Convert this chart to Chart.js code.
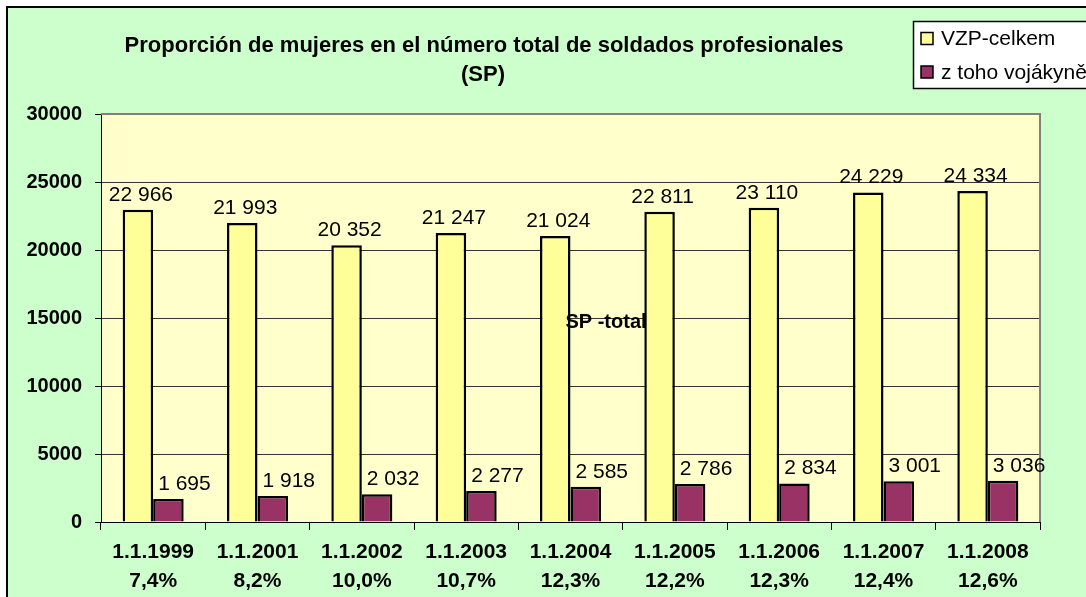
<!DOCTYPE html>
<html>
<head>
<meta charset="utf-8">
<script src="https://cdn.jsdelivr.net/npm/chart.js@4/dist/chart.umd.min.js"></script>
<style>
  html, body { margin: 0; padding: 0; background: #fff; }
  #wrap { width: 1086px; height: 597px; }
</style>
</head>
<body>
<div id="wrap"><canvas id="soldiers" width="1086" height="597"></canvas></div>
<script>
// data
const dates = ["1.1.1999", "1.1.2001", "1.1.2002", "1.1.2003", "1.1.2004", "1.1.2005", "1.1.2006", "1.1.2007", "1.1.2008"];
const shares = ["7,4%", "8,2%", "10,0%", "10,7%", "12,3%", "12,2%", "12,3%", "12,4%", "12,6%"];
const totalSP = [22966, 21993, 20352, 21247, 21024, 22811, 23110, 24229, 24334];
const womenSP = [1695, 1918, 2032, 2277, 2585, 2786, 2834, 3001, 3036];
const seriesNames = ["VZP-celkem", "z toho vojákyně"];
const yTicks = [0, 5000, 10000, 15000, 20000, 25000, 30000];

const FONT = "'Liberation Sans', Arial, sans-serif";

function fmt(v) {
  return String(v).replace(/\B(?=(\d{3})+(?!\d))/g, " ");
}

// backgrounds, frame, title, legend, labels
const decor = {
  id: "decor",
  beforeDraw(chart) {
    const c = chart.ctx, a = chart.chartArea;
    c.save();
    c.fillStyle = "#fff";
    c.fillRect(0, 0, chart.width, chart.height);
    c.fillStyle = "#CCFFCC";
    c.fillRect(7, 7, chart.width, chart.height);
    c.strokeStyle = "#000";
    c.lineWidth = 2;
    c.beginPath();
    c.moveTo(7, chart.height);
    c.lineTo(7, 7);
    c.lineTo(chart.width, 7);
    c.stroke();
    c.fillStyle = "#FFFFCC";
    c.fillRect(a.left, a.top, a.right - a.left, a.bottom - a.top);
    c.restore();
  },
  afterDraw(chart) {
    const c = chart.ctx, a = chart.chartArea;
    c.save();
    // plot border top / right
    c.strokeStyle = "#808080";
    c.lineWidth = 2;
    c.beginPath();
    c.moveTo(a.left, a.top);
    c.lineTo(a.right, a.top);
    c.lineTo(a.right, a.bottom);
    c.stroke();

    // title
    c.fillStyle = "#000";
    c.textAlign = "center";
    c.textBaseline = "middle";
    c.font = "bold 22px " + FONT;
    c.fillText("Proporción de mujeres en el número total de soldados profesionales", 484, 46);
    c.fillText("(SP)", 483, 75);

    // value labels
    c.font = "21px " + FONT;
    c.textBaseline = "alphabetic";
    const shift = [3, 16];
    chart.data.datasets.forEach((ds, di) => {
      chart.getDatasetMeta(di).data.forEach((bar, i) => {
        c.fillText(fmt(ds.data[i]), bar.x + shift[di], bar.y - 9);
      });
    });

    // text in plot
    c.font = "bold 20px " + FONT;
    c.textBaseline = "middle";
    c.fillText("SP -total", 606, 322);

    // legend
    c.fillStyle = "#fff";
    c.fillRect(913, 21, 200, 67);
    c.strokeStyle = "#000";
    c.lineWidth = 1.5;
    c.strokeRect(913.5, 21.5, 200, 67);
    c.textAlign = "left";
    c.font = "21px " + FONT;
    chart.data.datasets.forEach((ds, di) => {
      const y = 38.5 + di * 33.5;
      c.fillStyle = ds.backgroundColor;
      c.fillRect(921, y - 6, 12, 12);
      c.strokeStyle = "#000";
      c.lineWidth = 1.5;
      c.strokeRect(921, y - 6, 12, 12);
      c.fillStyle = "#000";
      c.fillText(seriesNames[di], 941, y + 1);
    });
    c.restore();
  }
};

new Chart(document.getElementById("soldiers"), {
  type: "bar",
  data: {
    labels: dates.map((d, i) => [d, shares[i]]),
    datasets: [
      { label: seriesNames[0], data: totalSP, backgroundColor: "#FFFF99", borderColor: "#000", borderWidth: 2.5 },
      { label: seriesNames[1], data: womenSP, backgroundColor: "#993366", borderColor: "#000", borderWidth: 2.5 }
    ]
  },
  options: {
    responsive: false,
    animation: false,
    datasets: { bar: { categoryPercentage: 0.585, barPercentage: 1 } },
    layout: { padding: { top: 114, right: 46, left: 0, bottom: 0 } },
    plugins: {
      legend: { display: false },
      title: { display: false },
      tooltip: { enabled: false }
    },
    scales: {
      x: {
        afterFit(scale) { scale.height = 75; },
        grid: { drawOnChartArea: false, offset: true, tickLength: 8, color: "#000" },
        border: { color: "#000", width: 1 },
        ticks: {
          color: "#000",
          padding: 8,
          maxRotation: 0,
          font: { family: FONT, size: 21, weight: "bold", lineHeight: 1.38 }
        }
      },
      y: {
        min: 0,
        max: 30000,
        afterFit(scale) { scale.width = 101; },
        afterBuildTicks(scale) { scale.ticks = yTicks.map(v => ({ value: v })); },
        grid: {
          color: "#333",
          lineWidth: 1,
          tickLength: 6,
          tickColor: "#000"
        },
        border: { color: "#000", width: 1 },
        ticks: {
          color: "#000",
          padding: 13,
          callback: v => String(v),
          font: { family: FONT, size: 20, weight: "bold" }
        }
      }
    }
  },
  plugins: [decor]
});
</script>
</body>
</html>
